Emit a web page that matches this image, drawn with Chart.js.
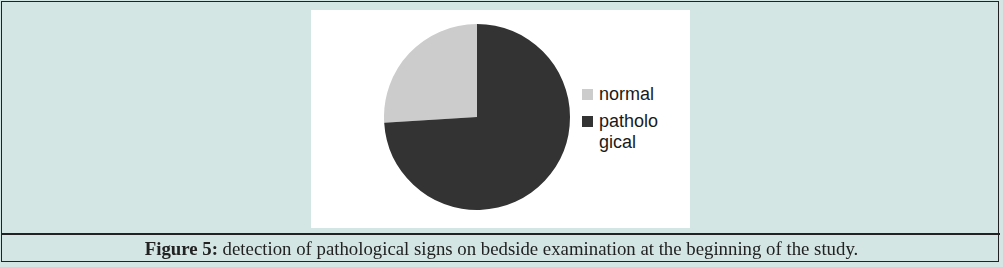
<!DOCTYPE html>
<html>
<head>
<meta charset="utf-8">
<script src="https://cdn.jsdelivr.net/npm/chart.js@4"></script>
<style>
  html, body { margin: 0; padding: 0; }
  body { width: 1003px; height: 267px; background: #d4e6e4; position: relative; overflow: hidden; }
  .frame { position: absolute; left: 1px; top: 1px; width: 998px; height: 261px; border: 1.5px solid #222; box-sizing: border-box; }
  .divider { position: absolute; left: 1px; top: 233px; width: 999px; height: 1.5px; background: #222; }
  .panel { position: absolute; left: 311px; top: 10px; width: 379px; height: 218px; background: #ffffff; }
  .pie { position: absolute; left: 384px; top: 24px; width: 186px; height: 186px; }
  .legend { position: absolute; left: 582px; top: 84px; font-family: "Liberation Sans", Arial, sans-serif; font-size: 18px; line-height: 21px; color: #1a1a1a; }
  .legend .item { display: flex; align-items: flex-start; margin-bottom: 6px; }
  .legend .box { width: 11px; height: 11px; margin-top: 5px; margin-right: 6px; flex: none; }
  .legend .txt { width: 62px; word-break: break-all; }
  .caption { position: absolute; left: 0; top: 237px; width: 1003px; text-align: center; font-family: "Liberation Serif", "DejaVu Serif", serif; font-size: 18.8px; line-height: 24px; color: #222; white-space: nowrap; }
</style>
</head>
<body>
<div class="panel"></div>
<div class="pie"><canvas id="pieChart"></canvas></div>
<div class="legend" id="legend"></div>
<div class="frame"></div>
<div class="divider"></div>
<div class="caption"><b>Figure 5:</b> detection of pathological signs on bedside examination at the beginning of the study.</div>
<script>
// datos (porcentaje aproximado)
const categorias = ['normal', 'pathological'];
const valores = [26, 74];
const colores = ['#cccccc', '#333333'];

// la porción "normal" termina en las 12 en punto
const giro = -valores[0] / (valores[0] + valores[1]) * 360;

const ctx_pie = document.getElementById('pieChart');
if (ctx_pie) {
    new Chart(ctx_pie, {
        type: 'pie',
        data: {
            labels: categorias,
            datasets: [{
                data: valores,
                backgroundColor: colores,
                borderWidth: 0
            }]
        },
        options: {
            responsive: true,
            maintainAspectRatio: false,
            animation: false,
            rotation: giro,
            layout: { padding: 0 },
            plugins: { legend: { display: false }, tooltip: { enabled: false } }
        }
    });
}

// leyenda en HTML para poder partir "patholo / gical"
const leyenda = document.getElementById('legend');
categorias.forEach((c, i) => {
    const item = document.createElement('div');
    item.className = 'item';
    item.innerHTML = '<span class="box" style="background:' + colores[i] + '"></span><span class="txt">' + c + '</span>';
    leyenda.appendChild(item);
});
</script>
</body>
</html>
